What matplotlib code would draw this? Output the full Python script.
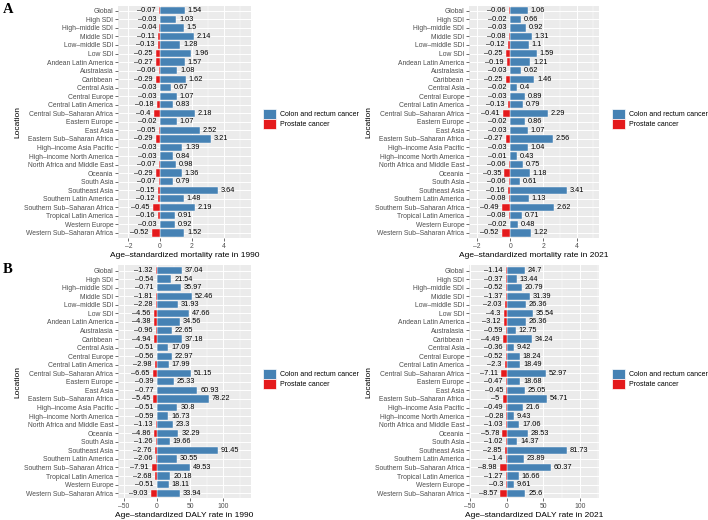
import matplotlib
matplotlib.use("Agg")
import matplotlib.pyplot as plt
from matplotlib.patches import Patch
from matplotlib.ticker import MultipleLocator

plt.rcParams['font.family'] = ['Liberation Sans', 'DejaVu Sans']

# ---------------- data ----------------
locations = ["Global", "High SDI", "High-middle SDI", "Middle SDI", "Low-middle SDI",
             "Low SDI", "Andean Latin America", "Australasia", "Caribbean",
             "Central Asia", "Central Europe", "Central Latin America",
             "Central Sub-Saharan Africa", "Eastern Europe", "East Asia",
             "Eastern Sub-Saharan Africa", "High-income Asia Pacific",
             "High-income North America", "North Africa and Middle East",
             "Oceania", "South Asia", "Southeast Asia", "Southern Latin America",
             "Southern Sub-Saharan Africa", "Tropical Latin America",
             "Western Europe", "Western Sub-Saharan Africa"]

crc_mort_1990 = [1.54, 1.03, 1.5, 2.14, 1.28, 1.96, 1.57, 1.08, 1.62, 0.67, 1.07, 0.83, 2.18,
                 1.07, 2.52, 3.21, 1.39, 0.84, 0.98, 1.36, 0.79, 3.64, 1.48, 2.19, 0.91, 0.92, 1.52]
pc_mort_1990 = [-0.07, -0.03, -0.04, -0.11, -0.13, -0.25, -0.27, -0.06, -0.29, -0.03, -0.03, -0.18, -0.4,
                -0.02, -0.05, -0.29, -0.03, -0.03, -0.07, -0.29, -0.07, -0.15, -0.12, -0.45, -0.16, -0.03, -0.52]

crc_mort_2021 = [1.06, 0.66, 0.92, 1.31, 1.1, 1.59, 1.21, 0.62, 1.46, 0.4, 0.89, 0.79, 2.29,
                 0.86, 1.07, 2.56, 1.04, 0.43, 0.75, 1.18, 0.61, 3.41, 1.13, 2.62, 0.71, 0.48, 1.22]
pc_mort_2021 = [-0.06, -0.02, -0.03, -0.08, -0.12, -0.25, -0.19, -0.03, -0.25, -0.02, -0.03, -0.13, -0.41,
                -0.02, -0.03, -0.27, -0.03, -0.01, -0.06, -0.35, -0.06, -0.16, -0.08, -0.49, -0.08, -0.02, -0.52]

crc_daly_1990 = [37.04, 21.54, 35.97, 52.46, 31.93, 47.66, 34.56, 22.65, 37.18, 17.09, 22.97, 17.99, 51.15,
                 25.33, 60.93, 78.22, 30.8, 16.73, 23.3, 32.29, 19.66, 91.45, 30.55, 49.53, 20.18, 18.11, 33.94]
pc_daly_1990 = [-1.32, -0.54, -0.71, -1.81, -2.28, -4.56, -4.38, -0.96, -4.94, -0.51, -0.56, -2.98, -6.65,
                -0.39, -0.77, -5.45, -0.51, -0.59, -1.13, -4.86, -1.26, -2.76, -2.06, -7.91, -2.68, -0.51, -9.03]

crc_daly_2021 = [24.7, 13.44, 20.79, 31.39, 26.36, 35.54, 26.36, 12.75, 34.24, 9.42, 18.24, 18.49, 52.97,
                 18.68, 25.05, 54.71, 21.6, 9.43, 17.06, 28.53, 14.37, 81.73, 23.89, 60.37, 16.66, 9.61, 25.6]
pc_daly_2021 = [-1.14, -0.37, -0.52, -1.37, -2.03, -4.3, -3.12, -0.59, -4.49, -0.36, -0.52, -2.3, -7.11,
                -0.47, -0.45, -5, -0.49, -0.28, -1.03, -5.78, -1.02, -2.85, -1.4, -8.98, -1.27, -0.3, -8.57]

series_names = ["Colon and rectum cancer", "Prostate cancer"]

BLUE = "#4682B4"
RED = "#E41A1C"
W, H = 708, 520


def fmt(v):
    s = f"{v:g}"
    return s.replace("-", "\u2013")


def panel(rect_px, crc, pc, xlabel, xlim, major, minor):
    x0, y0, x1, y1 = rect_px
    ax = fig.add_axes([x0 / W, 1 - y1 / H, (x1 - x0) / W, (y1 - y0) / H])
    ax.set_facecolor("#EBEBEB")
    n = len(locations)
    ypos = list(range(n))
    ax.barh(ypos, crc, height=0.85, color=BLUE, edgecolor="white", linewidth=0.3, zorder=3)
    ax.barh(ypos, pc, height=0.85, color=RED, edgecolor="white", linewidth=0.3, zorder=3)
    for yy, v in zip(ypos, crc):
        ax.annotate(fmt(v), (v, yy), xytext=(2, 0), textcoords="offset points",
                    ha="left", va="center", fontsize=5.3, color="black", zorder=4)
    for yy, v in zip(ypos, pc):
        ax.annotate(fmt(v), (v, yy), xytext=(-2.5, 0), textcoords="offset points",
                    ha="right", va="center", fontsize=5.3, color="black", zorder=4)
    ax.set_ylim(n - 0.4, -0.6)
    ax.set_xlim(*xlim)
    ax.set_yticks(ypos)
    ax.set_yticklabels([l.replace("-", "\u2013") for l in locations])
    ax.xaxis.set_major_locator(MultipleLocator(major))
    ax.xaxis.set_minor_locator(MultipleLocator(minor))
    ax.xaxis.set_major_formatter(plt.FuncFormatter(lambda v, p: fmt(round(v, 6))))
    ax.grid(True, which="major", color="white", linewidth=0.7, zorder=0)
    ax.grid(True, which="minor", axis="x", color="white", linewidth=0.35, zorder=0)
    ax.set_axisbelow(True)
    for sp in ax.spines.values():
        sp.set_visible(False)
    ax.tick_params(axis="both", which="major", labelsize=4.9, labelcolor="#4D4D4D",
                   color="#333333", length=2, width=0.5, pad=1.5)
    ax.tick_params(axis="x", which="minor", length=0)
    ax.set_xlabel(xlabel, fontsize=6, labelpad=1.5)
    ax.set_ylabel("Location", fontsize=6, labelpad=2)
    return ax


def legend(x, y):
    handles = [Patch(facecolor=BLUE, edgecolor="white", linewidth=0.5),
               Patch(facecolor=RED, edgecolor="white", linewidth=0.5)]
    fig.legend(handles, series_names, loc="upper left", bbox_to_anchor=(x / W, 1 - y / H),
               frameon=False, fontsize=5, handlelength=1.87, handleheight=1.8,
               labelspacing=0, handletextpad=0.55, borderpad=0, borderaxespad=0)


fig = plt.figure(figsize=(W / 100, H / 100), dpi=100)

panel((118, 5.7, 251, 238), crc_mort_1990, pc_mort_1990,
      "Age\u2013standardized mortality rate in 1990", (-2.65, 5.72), 2, 1)
panel((469, 5.7, 599, 238), crc_mort_2021, pc_mort_2021,
      "Age\u2013standardized mortality rate in 2021", (-2.48, 5.34), 2, 1)
panel((118, 265.4, 251, 498.3), crc_daly_1990, pc_daly_1990,
      "Age\u2013standardized DALY rate in 1990", (-59, 141.8), 50, 25)
panel((469, 265.4, 599, 498.3), crc_daly_2021, pc_daly_2021,
      "Age\u2013standardized DALY rate in 2021", (-51.4, 125.9), 50, 25)

legend(263, 109)
legend(612, 109)
legend(263, 369)
legend(612, 369)

fig.text(3 / W, 1 - 3 / H, "A", fontsize=10.5, fontweight="bold",
         family=["Liberation Serif", "DejaVu Serif"], ha="left", va="top")
fig.text(3 / W, 1 - 263 / H, "B", fontsize=10.5, fontweight="bold",
         family=["Liberation Serif", "DejaVu Serif"], ha="left", va="top")

fig.savefig("out.png", dpi=100)
